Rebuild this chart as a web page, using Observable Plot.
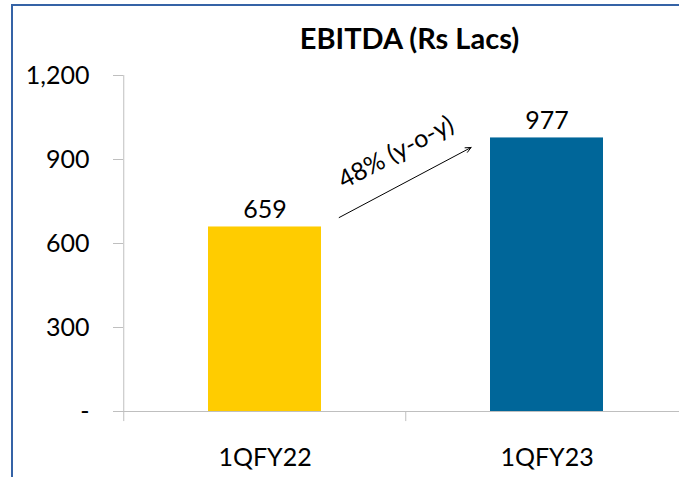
<!DOCTYPE html>
<html>
<head>
<meta charset="utf-8">
<script src="https://cdn.jsdelivr.net/npm/d3@7"></script>
<script src="https://cdn.jsdelivr.net/npm/@observablehq/plot@0.6"></script>
<style>
  html, body { margin: 0; padding: 0; background: #fff; }
  #wrap { position: relative; width: 679px; height: 477px; overflow: hidden; font-family: Lato, "Open Sans", sans-serif; }
  #border { position: absolute; left: 11px; top: 4px; right: -4px; bottom: -4px; border-top: 2px solid #3563a6; border-left: 2px solid #3563a6; pointer-events: none; }
</style>
</head>
<body>
<div id="wrap"><div id="border"></div></div>
<script>
const title = "EBITDA (Rs Lacs)";
const categories = ["1QFY22", "1QFY23"];
const values = [659, 977];
const barColors = ["#FFCC00", "#006699"];
const yTicks = [0, 300, 600, 900, 1200];
const yoyLabel = "48% (y-o-y)";
// arrow annotation in data terms (start / end value on the line through the bar centres)
const arrowStart = { cat: "1QFY22", value: 552 };
const arrowEnd = { cat: "1QFY23", value: 1087 };
const yoyLabelPos = { cat: "1QFY22", value: 925 };

const data = categories.map((c, i) => ({ cat: c, value: values[i], color: barColors[i] }));
const grid = "#bfbfbf";
const half = 141.25;

const chart = Plot.plot({
  width: 679,
  height: 477,
  marginLeft: 123,
  marginRight: 0,
  marginTop: 75,
  marginBottom: 66,
  style: { fontFamily: "Lato, 'Open Sans', sans-serif", fontSize: "25px", color: "#000", background: "transparent" },
  x: { domain: categories, range: [123, 688], paddingInner: 0.6, paddingOuter: 0.3, align: 0.5, label: null },
  y: { domain: [0, 1200], label: null },
  marks: [
    Plot.barY(data, { x: "cat", y: "value", fill: "color" }),
    Plot.ruleY([0], { stroke: grid, strokeWidth: 1 }),
    Plot.ruleX([categories[0]], { dx: -half, y1: 0, y2: 1200, stroke: grid }),
    Plot.ruleX(categories, { dx: -half, y1: 0, y2: -36, stroke: grid }),
    Plot.axisY({ ticks: yTicks, tickSize: 10, tickPadding: 24, stroke: grid, fill: "#000", fontSize: 25,
      tickFormat: d => d === 0 ? "-" : d3.format(",")(d), label: null }),
    Plot.axisX({ tickSize: 0, tickPadding: 37, fill: "#000", fontSize: 25, label: null }),
    Plot.text(data, { x: "cat", y: "value", text: d => String(d.value), lineAnchor: "bottom", dy: -9, fontSize: 25, fill: "#000" }),
    Plot.arrow([{ s: arrowStart, e: arrowEnd }], {
      x1: d => d.s.cat, y1: d => d.s.value, x2: d => d.e.cat, y2: d => d.e.value,
      insetStart: 84, insetEnd: 86, stroke: "#000", strokeWidth: 1, headLength: 9, headAngle: 50
    }),
    Plot.text([yoyLabelPos], { x: "cat", y: "value", text: () => yoyLabel, dx: 131, rotate: -28, fontSize: 25, fill: "#000" }),
    Plot.text([title], { frameAnchor: "top", text: d => d, dx: 8, dy: -27, lineAnchor: "bottom", fontSize: 29, fontWeight: "bold", fill: "#000" })
  ]
});
document.getElementById("wrap").prepend(chart);
</script>
</body>
</html>
